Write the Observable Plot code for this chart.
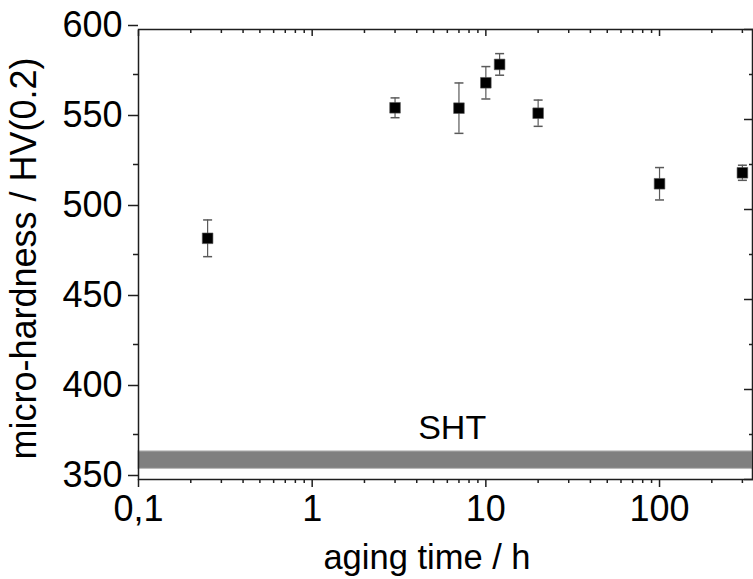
<!DOCTYPE html>
<html><head><meta charset="utf-8">
<script src="https://cdn.jsdelivr.net/npm/d3@7"></script>
<script src="https://cdn.jsdelivr.net/npm/@observablehq/plot@0.6"></script>
<style>html,body{margin:0;padding:0;background:#fff}</style>
</head><body><div id="chart"></div>
<script>
// Data
const agingTime = [0.25, 3, 7, 10, 12, 20, 100, 300];
const hardness  = [484, 556.5, 556.3, 570.4, 580.6, 553.5, 514.3, 520.4];
const hardErr   = [10.2, 5.5, 14, 9, 6, 7.3, 9, 4.2];

const shtRange = [355.9, 365.6];
const shtLabel = ["SHT"];
const shtLabelPos = [6.4, 378.7];

const xMajorTicks = [0.1, 1, 10, 100];
const xTickLabels = ["0,1", "1", "10", "100"];
const xMinorTicks = [0.2,0.3,0.4,0.5,0.6,0.7,0.8,0.9, 2,3,4,5,6,7,8,9, 20,30,40,50,60,70,80,90, 200,300];
const yMajorTicks = [350, 400, 450, 500, 550, 600];
const yMinorTicks = [375, 425, 475, 525, 575];

const xLabel = "aging time / h";
const yLabel = "micro-hardness / HV(0.2)";

const points = agingTime.map((t, i) => ({t, h: hardness[i], lo: hardness[i] - hardErr[i], hi: hardness[i] + hardErr[i]}));
const caps = points.flatMap(p => [{t: p.t, v: p.lo}, {t: p.t, v: p.hi}]);

const capSymbol = {
  draw(ctx, size) {
    const r = Math.sqrt(size / Math.PI);
    ctx.moveTo(-r, 0);
    ctx.lineTo(r, 0);
  }
};

const axisColor = "#1e1e1e";

const chart = Plot.plot({
  width: 753,
  height: 579,
  marginLeft: 138,
  marginRight: 1,
  marginTop: 29,
  marginBottom: 100,
  style: {fontFamily: "'Liberation Sans', Arial, sans-serif", fontSize: "36px", color: "#000", background: "#fff"},
  x: {type: "log", domain: [0.1, 343]},
  y: {domain: [350, 600]},
  marks: [
    Plot.rect([shtRange], {y1: d => d[0], y2: d => d[1], fill: "#808080", stroke: "#b8b8b8", strokeWidth: 1}),
    Plot.text(shtLabel, {x: () => shtLabelPos[0], y: () => shtLabelPos[1], text: d => d, fontSize: 34, fill: "#000"}),
    // error bars
    Plot.ruleX(points, {x: "t", y1: "lo", y2: "hi", stroke: "#5a5a5a", strokeWidth: 1.2}),
    Plot.dot(caps, {x: "t", y: "v", symbol: capSymbol, r: 4.5, stroke: "#5a5a5a", strokeWidth: 1.5, fill: "none"}),
    Plot.dot(points, {x: "t", y: "h", symbol: "square", r: 6, fill: "#000", stroke: "#555", strokeWidth: 0.6}),
    // axes: left
    Plot.axisY(yMajorTicks, {anchor: "left", tickSize: 10, tickPadding: 6, dy: -4, label: null, stroke: axisColor, strokeWidth: 1.5, fill: "#000"}),
    Plot.axisY(yMinorTicks, {anchor: "left", tickSize: 5, text: null, label: null, stroke: axisColor, strokeWidth: 1.5}),
    // right (inward)
    Plot.axisY(yMajorTicks, {anchor: "right", tickSize: -9, text: null, label: null, stroke: axisColor, strokeWidth: 1.5}),
    Plot.axisY(yMinorTicks, {anchor: "right", tickSize: -4, text: null, label: null, stroke: axisColor, strokeWidth: 1.5}),
    // bottom
    Plot.axisX(xMajorTicks, {anchor: "bottom", tickSize: 8, tickPadding: 8, tickFormat: (d) => xTickLabels[xMajorTicks.indexOf(d)], label: null, stroke: axisColor, strokeWidth: 1.5, fill: "#000"}),
    Plot.axisX(xMinorTicks, {anchor: "bottom", tickSize: 4, text: null, label: null, stroke: axisColor, strokeWidth: 1.5}),
    // top (inward)
    Plot.axisX(xMajorTicks, {anchor: "top", tickSize: -6, text: null, label: null, stroke: axisColor, strokeWidth: 1.5}),
    Plot.axisX(xMinorTicks, {anchor: "top", tickSize: -3, text: null, label: null, stroke: axisColor, strokeWidth: 1.5}),
    Plot.frame({stroke: axisColor, strokeWidth: 1.5}),
    // axis titles
    Plot.text([xLabel], {frameAnchor: "bottom", text: d => d, dy: 89, dx: -18.5, fontSize: 34.5, lineAnchor: "bottom", fill: "#000"}),
    Plot.text([yLabel], {frameAnchor: "left", text: d => d, rotate: -90, textAnchor: "middle", lineAnchor: "middle", dx: -114.5, dy: 4, fontSize: 36, fill: "#000"})
  ]
});
document.getElementById("chart").appendChild(chart);
</script>
</body></html>
